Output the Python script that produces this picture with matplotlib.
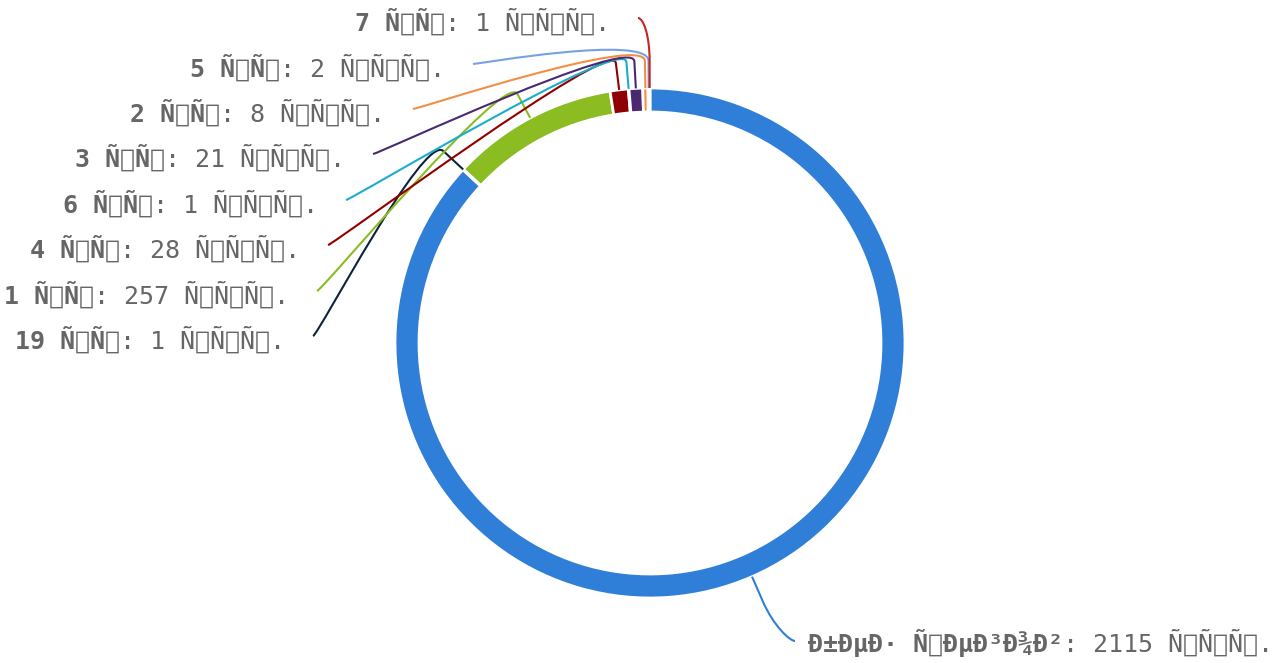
import numpy as np
import matplotlib.pyplot as plt
from matplotlib.path import Path
from matplotlib.patches import PathPatch


def moji(s):
    # в исходнике текст испорчен кодировкой: utf-8 прочитан как latin-1
    return s.encode('utf-8').decode('latin-1')


# данные
tags = ['без тегов', '19 шт', '1 шт', '4 шт', '6 шт', '3 шт', '2 шт', '5 шт', '7 шт']
counts = [2115, 1, 257, 28, 1, 21, 8, 2, 1]
unit = 'стр.'
colors = ['#2f7ed8', '#0d233a', '#8bbc21', '#910000', '#1aadce',
          '#492970', '#f28f43', '#77a1e5', '#c42525']

# раскладка подписей (пиксели, y сверху): сторона, край текста, центр по y
label_pos = [('right', 808, 643), ('left', 285, 340), ('left', 289, 295),
             ('left', 300, 249), ('left', 318, 204), ('left', 345, 158),
             ('left', 385, 113), ('left', 445, 68), ('left', 610, 22)]

W, H = 1283, 663
cx, cy = 650, H - 343
R, ring = 255, 24
fsize = 18
txt_color = '#666666'

fig = plt.figure(figsize=(W / 100, H / 100), dpi=100)
ax = fig.add_axes([0, 0, 1, 1])

ax.pie(counts, colors=colors, startangle=90, counterclock=False,
       radius=R, center=(cx, cy),
       wedgeprops=dict(width=ring, edgecolor='white', linewidth=2))
ax.set_xlim(0, W)
ax.set_ylim(0, H)
ax.set_aspect('equal')
ax.axis('off')

renderer = fig.canvas.get_renderer()
total = float(sum(counts))
cum = 0.0
for i, (tag, n) in enumerate(zip(tags, counts)):
    frac = n / total
    mid = np.radians(90 - 360 * (cum + frac / 2))
    cum += frac

    # точка на краю кольца и излом линии
    ex, ey = cx + R * np.cos(mid), cy + R * np.sin(mid)
    bx, by = cx + (R + 27) * np.cos(mid), cy + (R + 27) * np.sin(mid)

    side, lx, ly = label_pos[i]
    ly = H - ly
    bold = moji(tag)
    normal = moji(': %d %s' % (n, unit))

    if side == 'left':
        t = ax.text(lx, ly, normal, ha='right', va='center', fontsize=fsize,
                    family='DejaVu Sans Mono', color=txt_color)
        w = t.get_window_extent(renderer=renderer).width
        ax.text(lx - w, ly, bold, ha='right', va='center', fontsize=fsize,
                family='DejaVu Sans Mono', fontweight='bold', color=txt_color)
        sx, sy = lx + 28, ly + 4
        d = 1
    else:
        t = ax.text(lx, ly, bold, ha='left', va='center', fontsize=fsize,
                    family='DejaVu Sans Mono', fontweight='bold', color=txt_color)
        w = t.get_window_extent(renderer=renderer).width
        ax.text(lx + w, ly, normal, ha='left', va='center', fontsize=fsize,
                family='DejaVu Sans Mono', color=txt_color)
        sx, sy = lx - 13, ly + 2
        d = -1

    verts = [(sx, sy), (sx + 5 * d, sy), (2 * bx - ex, 2 * by - ey), (bx, by), (ex, ey)]
    codes = [Path.MOVETO, Path.CURVE4, Path.CURVE4, Path.CURVE4, Path.LINETO]
    ax.add_patch(PathPatch(Path(verts, codes), facecolor='none',
                           edgecolor=colors[i], lw=1.5))

fig.savefig('out.png', dpi=100)
